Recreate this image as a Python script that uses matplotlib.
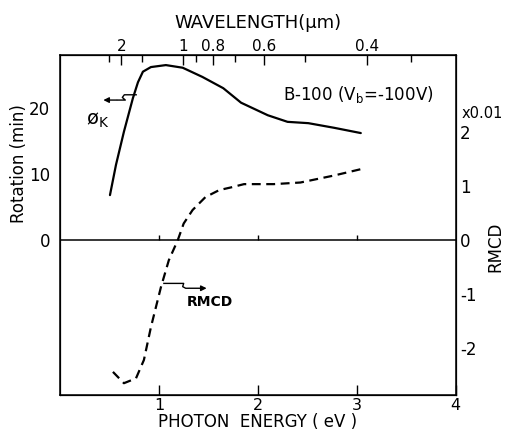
import numpy as np
import matplotlib
matplotlib.use("Agg")
import matplotlib.pyplot as plt

plt.rcParams["font.family"] = "DejaVu Sans"
plt.rcParams["font.size"] = 11

# Kerr rotation phi_K (min) vs photon energy (eV)
energy_rot = [0.505, 0.566, 0.646, 0.737, 0.788, 0.838, 0.919, 1.07, 1.24, 1.44,
              1.65, 1.83, 2.10, 2.30, 2.51, 2.77, 3.04]
rotation = [6.8, 11.4, 16.4, 21.5, 23.9, 25.5, 26.2, 26.5, 26.1, 24.7,
            23.0, 20.8, 18.9, 17.9, 17.7, 17.0, 16.2]

# RMCD (x0.01) vs photon energy (eV)
energy_rmcd = [0.535, 0.646, 0.768, 0.848, 0.919, 1.02, 1.10, 1.19, 1.25, 1.34,
               1.47, 1.61, 1.73, 1.86, 2.16, 2.43, 2.77, 3.07]
rmcd = [-2.44, -2.65, -2.56, -2.22, -1.61, -0.87, -0.37, 0.0, 0.31, 0.56,
        0.80, 0.93, 0.98, 1.04, 1.04, 1.07, 1.20, 1.33]

energy_ticks = [1, 2, 3, 4]
rot_ticks = [0, 10, 20]
rmcd_ticks = [2, 1, 0, -1, -2]
wl_major = [2, 1, 0.8, 0.6, 0.4]
wl_major_labels = ["2", "1", "0.8", "0.6", "0.4"]
wl_minor = [2.5, 1.5, 0.9, 0.7, 0.5, 0.35]

fig = plt.figure(figsize=(5.15, 4.38), dpi=100)
ax = fig.add_axes([0.1165, 0.098, 0.7685, 0.776])
ax.set_xlim(0, 4)
ax.set_ylim(-23.5, 28.0)

for s in ax.spines.values():
    s.set_linewidth(1.1)

ax.plot(energy_rot, rotation, color="black", lw=1.6, solid_capstyle="round")
ax.axhline(0, color="black", lw=1.1)
ax.vlines([1, 2, 3], 0, 0.8, color="black", lw=1.0)

ax.set_xticks(energy_ticks)
ax.set_xticklabels([str(t) for t in energy_ticks])
ax.tick_params(axis="x", direction="in", length=7, width=1.0, pad=2, labelsize=11.5)
ax.set_yticks(rot_ticks)
ax.tick_params(axis="y", length=0, pad=7, labelsize=12)
ax.set_xlabel("PHOTON  ENERGY ( eV )", fontsize=12, labelpad=0)
ax.set_ylabel("Rotation (min)", fontsize=12)
ax.yaxis.set_label_coords(-0.082, 0.68)

# phi_K leader
ax.plot([0.77, 0.65, 0.63, 0.66, 0.58], [22.0, 22.0, 21.6, 21.2, 21.2], color="black", lw=1.0)
ax.annotate("", xy=(0.41, 21.2), xytext=(0.60, 21.2),
            arrowprops=dict(arrowstyle="-|>", color="black", lw=1.0, mutation_scale=8))
ax.text(0.385, 18.2, "ø$_\\mathrm{K}$", fontsize=14, ha="center", va="center")
ax.text(2.25, 22.0, "B-100 (V$_\\mathrm{b}$=-100V)", fontsize=12, ha="left", va="center")

# right axis
ax2 = ax.twinx()
ax2.set_ylim(-2.87, 3.43)
ax2.plot(energy_rmcd, rmcd, color="black", lw=1.6, dashes=(4, 2.5))
ax2.set_yticks(rmcd_ticks)
ax2.set_yticklabels([str(t) for t in rmcd_ticks])
ax2.tick_params(axis="y", length=0, pad=3, labelsize=12)
ax2.set_ylabel("RMCD", fontsize=12)
ax2.yaxis.set_label_coords(1.078, 0.435)
ax2.text(1.015, 0.829, "x0.01", transform=ax2.transAxes, fontsize=10.5, ha="left", va="center")

# RMCD leader
ax2.plot([1.05, 1.25, 1.24, 1.27, 1.3], [-0.80, -0.80, -0.86, -0.89, -0.89], color="black", lw=1.0)
ax2.annotate("", xy=(1.51, -0.89), xytext=(1.28, -0.89),
             arrowprops=dict(arrowstyle="-|>", color="black", lw=1.0, mutation_scale=8))
ax2.text(1.28, -1.15, "RMCD", fontsize=10, fontweight="bold", ha="left", va="center")

# top wavelength axis
ax3 = ax.twiny()
ax3.set_xlim(0, 4)
ax3.set_xticks([1.24 / w for w in wl_major])
ax3.set_xticklabels(wl_major_labels)
ax3.set_xticks([1.24 / w for w in wl_minor], minor=True)
ax3.tick_params(axis="x", which="major", direction="in", length=7, width=1.0, pad=1, labelsize=11)
ax3.tick_params(axis="x", which="minor", direction="in", length=5, width=1.0)
ax3.set_xlabel("WAVELENGTH(μm)", fontsize=13, labelpad=8)

fig.savefig("out.png", dpi=100)
